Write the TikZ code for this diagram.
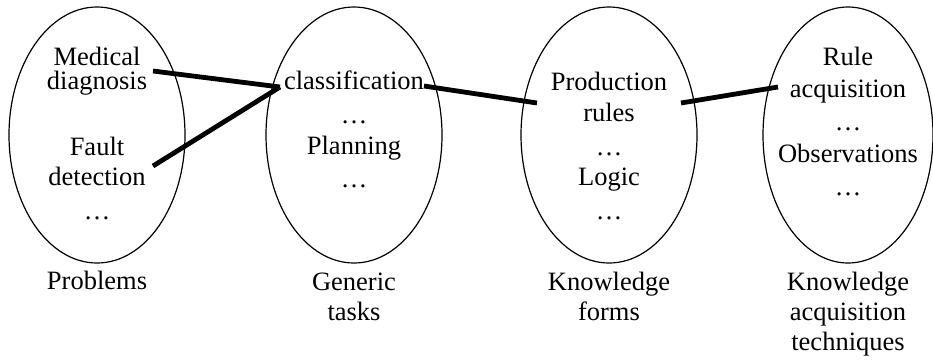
\documentclass[tikz,border=0pt]{standalone}
\usepackage{fontspec}
\setmainfont{Liberation Serif}
\usetikzlibrary{shapes.geometric}
\begin{document}
\begin{tikzpicture}[x=1pt,y=-1pt,
  ring/.style={draw, ellipse, line width=1.2pt, inner sep=0pt,
    minimum width=176pt, minimum height=256pt},
  txt/.style={anchor=base, inner sep=0pt, font=\fontsize{26.5}{30}\selectfont},
  link/.style={line width=4.8pt}]
\useasboundingbox (0,0) rectangle (933,360);

% the four groups
\node[ring] (e1) at (97,135) {};
\node[ring] (e2) at (354,135) {};
\node[ring] (e3) at (609,135) {};
\node[ring, minimum width=170pt] (e4) at (848,135) {};

% problems
\node[txt] (p1) at (97,65) {Medical};
\node[txt] (p2) at (97,89) {diagnosis};
\node[txt] (p3) at (97,155) {Fault};
\node[txt] (p4) at (97,185) {detection};
\node[txt] (p5) at (97,219) {\char"2026};
\node[txt] (lp) at (97,289) {Problems};

% generic tasks
\node[txt] (g1) at (354,89) {classification};
\node[txt] (g2) at (354,123) {\char"2026};
\node[txt] (g3) at (354,154) {Planning};
\node[txt] (g4) at (354,187) {\char"2026};
\node[txt] (lg1) at (354,290) {Generic};
\node[txt] (lg2) at (354,320) {tasks};

% knowledge forms
\node[txt] (k1) at (609,90) {Production};
\node[txt] (k2) at (609,121) {rules};
\node[txt] (k3) at (609,155) {\char"2026};
\node[txt] (k4) at (609,185) {Logic};
\node[txt] (k5) at (609,219) {\char"2026};
\node[txt] (lk1) at (609,290) {Knowledge};
\node[txt] (lk2) at (609,320) {forms};

% acquisition techniques
\node[txt] (a1) at (848,65) {Rule};
\node[txt] (a2) at (848,97) {acquisition};
\node[txt] (a3) at (848,130) {\char"2026};
\node[txt] (a4) at (848,162) {Observations};
\node[txt] (a5) at (848,195) {\char"2026};
\node[txt] (la1) at (848,290) {Knowledge};
\node[txt] (la2) at (848,320) {acquisition};
\node[txt] (la3) at (848,350) {techniques};

% link ends
\coordinate (medR) at (153,71);
\coordinate (fltR) at (153,166);
\coordinate (clsL) at (280,87);
\coordinate (clsR) at (424,86);
\coordinate (prdL) at (537,103);
\coordinate (prdR) at (681,103);
\coordinate (rulL) at (778,87);

\draw[link] (medR) -- (clsL);
\draw[link] (fltR) -- (clsL);
\draw[link] (clsR) -- (prdL);
\draw[link] (prdR) -- (rulL);
\end{tikzpicture}
\end{document}
